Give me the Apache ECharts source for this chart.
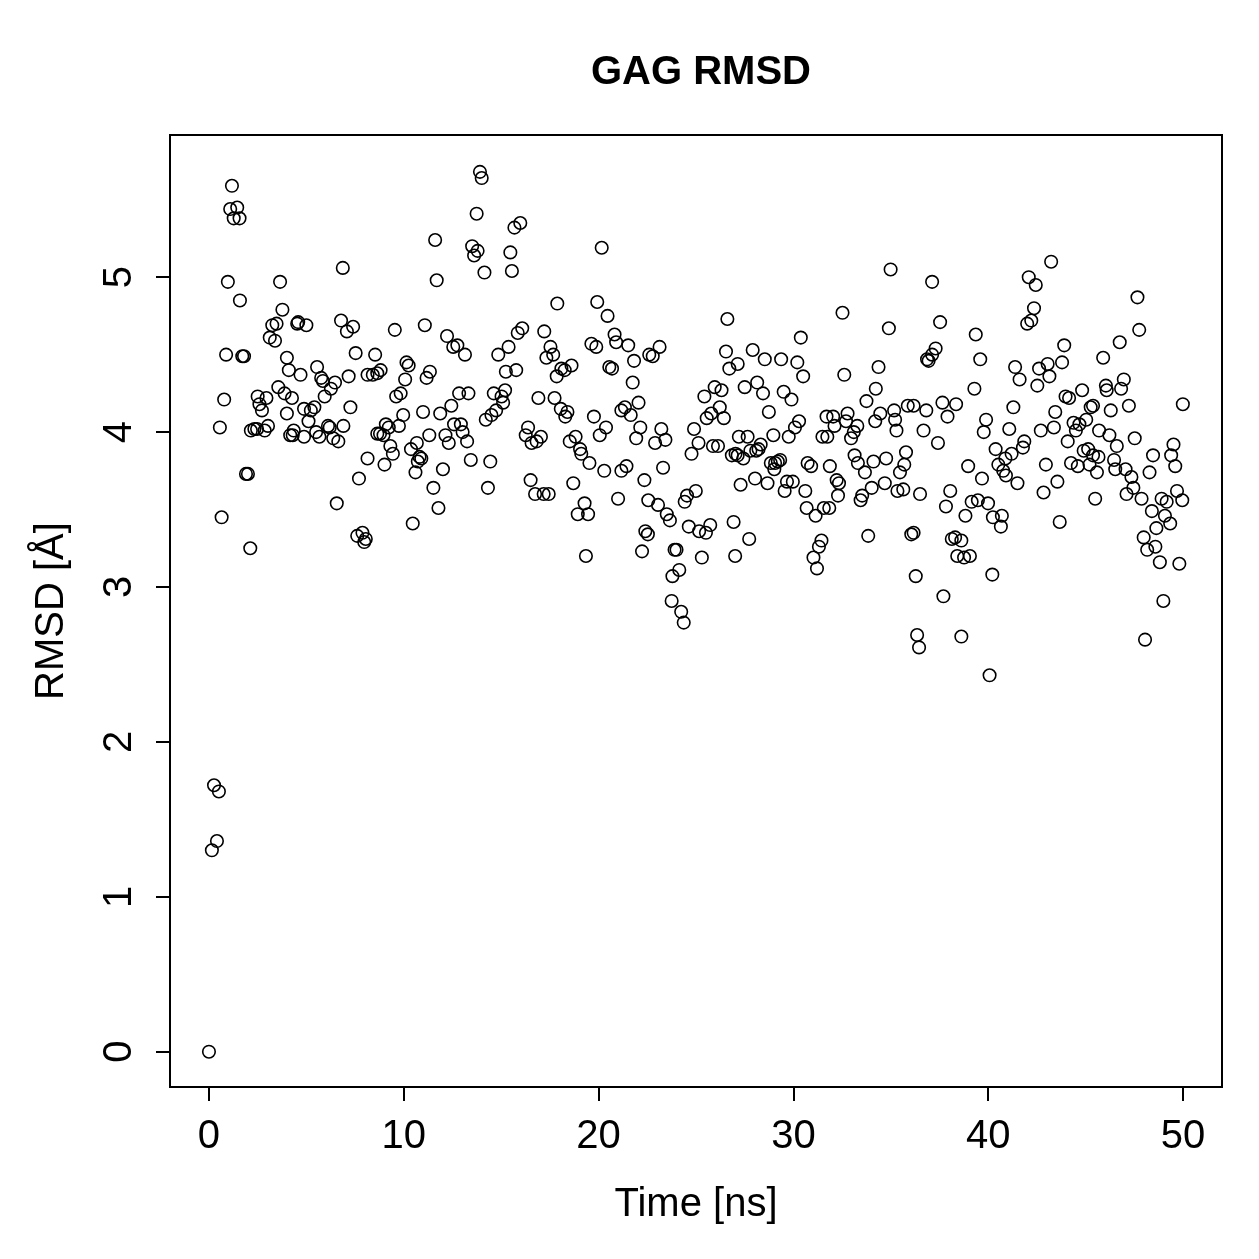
<!DOCTYPE html>
<html>
<head>
<meta charset="utf-8">
<script src="https://cdn.jsdelivr.net/npm/echarts@6/dist/echarts.min.js"></script>
<style>
  html, body { margin: 0; padding: 0; background: #fff; }
  #chart { width: 1259px; height: 1259px; }
</style>
</head>
<body>
<div id="chart"></div>
<script>
// values (time in ns, RMSD in Å)
const timeNs = [
  0, 0.15, 0.26, 0.41, 0.51, 0.56, 0.65, 0.78, 0.88, 0.97,
  1.09, 1.18, 1.27, 1.45, 1.57, 1.59, 1.71, 1.80, 1.90, 2.00,
  2.12, 2.15, 2.33, 2.47, 2.50, 2.59, 2.72, 2.86, 2.95, 3.03,
  3.12, 3.25, 3.39, 3.47, 3.56, 3.65, 3.77, 3.88, 4.00, 4.00,
  4.10,
  4.35, 4.17, 4.30, 4.26, 4.53, 4.58, 4.70, 4.88, 4.88, 5.00,
  5.11, 5.23, 5.41, 5.50, 5.55, 5.67, 5.76, 5.85, 5.94, 6.11,
  6.20, 6.26, 6.38, 6.47, 6.56, 6.64, 6.78, 6.87, 6.90, 7.08,
  7.17, 7.26, 7.40, 7.53, 7.61, 7.70, 7.88, 7.97, 8.05, 8.14,
  8.14, 8.41, 8.53, 8.64, 8.64, 8.81,
  8.78, 8.96, 9.01, 9.08, 9.23, 9.31, 9.44, 9.54, 9.61, 9.75,
  9.84, 9.97, 10.07, 10.14, 10.25, 10.37, 10.46, 10.60, 10.67, 10.72,
  10.81, 10.90, 10.99, 11.08, 11.17, 11.31, 11.34, 11.52, 11.61, 11.69,
  11.78, 11.87, 12.01, 12.14, 12.22, 12.31, 12.44, 12.54, 12.58, 12.75,
  12.84, 12.93, 13.02, 13.14, 13.25, 13.32,
  13.44, 13.51, 13.61, 13.74, 13.79, 13.91, 14.00, 14.14, 14.21, 14.32,
  14.44, 14.50, 14.62, 14.74, 14.85, 15.02, 15.10, 15.20, 15.24, 15.38,
  15.47, 15.55, 15.68, 15.77, 15.85, 15.98, 16.08, 16.26, 16.38, 16.51,
  16.56, 16.74, 16.82, 16.91, 17.04, 17.18, 17.21, 17.32, 17.44, 17.53,
  17.67, 17.74, 17.85, 17.88, 18.06, 18.09,
  18.26, 18.29, 18.40, 18.52, 18.61, 18.70, 18.82, 18.93, 19.05, 19.11,
  19.28, 19.35, 19.46, 19.53, 19.63, 19.76, 19.88, 19.93, 20.06, 20.16,
  20.29, 20.38, 20.46, 20.55, 20.69, 20.82, 20.90, 21.00, 21.17, 21.17,
  21.35, 21.43, 21.52, 21.65, 21.75, 21.82, 21.93, 22.05, 22.14, 22.23,
  22.35, 22.40, 22.53,
  22.60, 22.78, 22.90, 23.05, 22.55, 23.13, 23.22, 23.31, 23.43, 23.50,
  23.66, 23.75, 23.79, 23.90, 24.00, 24.14, 24.24, 24.37, 24.42, 24.54,
  24.63, 24.77, 24.90, 24.99, 25.13, 25.16, 25.30, 25.43, 25.51, 25.55,
  25.73, 25.78, 25.87, 25.96, 26.13, 26.22, 26.31, 26.43, 26.54, 26.61,
  26.71, 26.84, 26.93, 27.01, 27.14, 27.14,
  27.03, 27.20, 27.29, 27.43, 27.50, 27.65, 27.73, 27.79, 27.91, 28.03,
  28.09, 28.14, 28.21, 28.32, 28.44, 28.53, 28.67, 28.74, 28.84, 28.97,
  29.02, 29.06, 29.20, 29.32, 29.37, 29.50, 29.55, 29.67, 29.76, 29.90,
  29.97, 30.08, 30.20, 30.29, 30.38, 30.50, 30.61, 30.68, 30.73, 30.91,
  31.03, 31.14, 31.21, 31.31, 31.44, 31.49, 31.56, 31.70, 31.74, 31.84,
  31.87, 32.04, 32.11, 32.22, 32.29, 32.34, 32.52, 32.61, 32.70, 32.78,
  32.96, 33.10, 33.14, 33.28, 33.31, 33.45, 33.53, 33.67, 33.75, 33.84,
  34.02, 34.11, 34.20, 34.23, 34.37, 34.46, 34.69, 34.76, 34.90, 34.99,
  35.17, 35.22, 35.29, 35.34, 35.47, 35.64, 35.69, 35.78, 35.87, 36.05,
  36.17, 36.17, 36.28, 36.35, 36.45,
  36.50, 36.68, 36.82, 36.86, 36.94, 37.12, 37.12, 37.30, 37.42, 37.53,
  37.65, 37.70, 37.83, 37.91, 38.05, 38.13, 38.30, 38.35, 38.41, 38.62,
  38.62, 38.76, 38.83, 38.97, 39.06, 39.15, 39.29, 39.36, 39.47, 39.59,
  39.68, 39.77, 39.89, 39.99, 40.07, 40.21, 40.24, 40.38, 40.52, 40.65,
  40.70, 40.77, 40.88, 40.91,
  41.08, 41.20, 41.29, 41.38, 41.50, 41.61, 41.78, 41.85, 42.00, 42.08,
  42.21, 42.35, 42.44, 42.52, 42.61, 42.70, 42.84, 42.96, 43.05, 43.14,
  43.23, 43.37, 43.44, 43.55, 43.67, 43.79, 43.90, 43.97, 44.08, 44.15,
  44.25, 44.38, 44.50, 44.60, 44.68, 44.82, 44.90, 45.03, 45.13, 45.20,
  45.26, 45.38, 45.38, 45.49, 45.66,
  45.58, 45.69, 45.90, 46.04, 46.08, 46.22, 46.29, 46.46, 46.52, 46.60,
  46.75, 46.82, 46.96, 47.05, 47.10, 47.22, 47.35, 47.45, 47.52, 47.66,
  47.75, 47.87, 47.98, 48.05, 48.16, 48.28, 48.40, 48.46, 48.58, 48.63,
  48.81, 48.90, 48.99, 49.07, 49.16, 49.34, 49.39, 49.51, 49.60, 49.69,
  49.81, 49.96, 49.99
];

const rmsd = [
  0, 1.30, 1.72, 1.36, 1.68, 4.03, 3.45, 4.21, 4.50, 4.97,
  5.44, 5.59, 5.38, 5.45, 5.38, 4.85, 4.49, 4.49, 3.73, 3.73,
  3.25, 4.01, 4.02, 4.02, 4.23, 4.18, 4.14, 4.01, 4.22, 4.04,
  4.61, 4.69, 4.59, 4.70, 4.29, 4.97, 4.79, 4.25, 4.12, 4.48,
  4.40,
  4.01, 3.98, 3.98, 4.22, 4.70, 4.71, 4.37, 4.15, 3.97, 4.69,
  4.07, 4.14, 4.16, 4.00, 4.42, 3.97, 4.35, 4.33, 4.23, 4.04,
  4.03, 4.28, 3.96, 4.32, 3.54, 3.94, 4.72, 5.06, 4.04, 4.65,
  4.36, 4.16, 4.68, 4.51, 3.33, 3.70, 3.35, 3.29, 3.31, 4.37,
  3.83, 4.37, 4.50, 4.38, 3.99, 4.40,
  3.99, 3.98, 3.79, 4.05, 4.03, 3.91, 3.86, 4.66, 4.23, 4.04,
  4.25, 4.11, 4.34, 4.45, 4.43, 3.89, 3.41, 3.74, 3.93, 3.81,
  3.84, 3.83, 4.13, 4.69, 4.35, 3.98, 4.39, 3.64, 5.24, 4.98,
  3.51, 4.12, 3.76, 3.98, 4.62, 3.93, 4.17, 4.55, 4.05, 4.56,
  4.25, 4.05, 4.00, 4.50, 3.94, 4.25,
  3.82, 5.20, 5.14, 5.41, 5.17, 5.68, 5.64, 5.03, 4.08, 3.64,
  3.81, 4.11, 4.25, 4.14, 4.50, 4.23, 4.19, 4.27, 4.39, 4.55,
  5.16, 5.04, 5.32, 4.40, 4.64, 5.35, 4.67, 3.98, 4.03, 3.69,
  3.93, 3.60, 3.94, 4.22, 3.97, 3.60, 4.65, 4.48, 3.60, 4.55,
  4.50, 4.22, 4.36, 4.83, 4.15, 4.41,
  4.40, 4.10, 4.13, 3.94, 4.43, 3.67, 3.97, 3.47, 3.89, 3.86,
  3.54, 3.20, 3.47, 3.80, 4.57, 4.10, 4.55, 4.84, 3.98, 5.19,
  3.75, 4.03, 4.75, 4.42, 4.41, 4.63, 4.58, 3.57, 4.14, 3.75,
  4.16, 3.78, 4.56, 4.11, 4.32, 4.46, 3.96, 4.19, 4.03, 3.23,
  3.69, 3.36, 3.34,
  4.50, 4.49, 3.93, 3.53, 3.56, 4.55, 4.02, 3.77, 3.95, 3.47,
  3.43, 2.91, 3.07, 3.24, 3.24, 3.11, 2.84, 2.77, 3.55, 3.59,
  3.39, 3.86, 4.02, 3.62, 3.93, 3.36, 3.19, 4.23, 3.35, 4.09,
  3.40, 4.12, 3.91, 4.29, 3.91, 4.16, 4.27, 4.09, 4.52, 4.73,
  4.41, 3.85, 3.42, 3.20, 3.85, 4.44,
  3.86, 3.97, 3.66, 3.83, 4.29, 3.97, 3.31, 3.88, 4.53, 3.70,
  3.88, 4.32, 3.89, 3.92, 4.25, 4.47, 3.67, 4.13, 3.80, 3.98,
  3.76, 3.80, 3.81, 3.82, 4.47, 4.26, 3.62, 3.68, 3.97, 4.21,
  3.68, 4.03, 4.45, 4.07, 4.61, 4.36, 3.62, 3.51, 3.80, 3.78,
  3.19, 3.46, 3.12, 3.26, 3.30, 3.97, 3.51, 4.10, 3.97, 3.51,
  3.78, 4.10, 4.04, 3.69, 3.59, 3.67, 4.77, 4.37, 4.07, 4.12,
  3.96, 4.00, 3.85, 4.04, 3.80, 3.56, 3.59, 3.74, 4.20, 3.33,
  3.64, 3.81, 4.07, 4.28, 4.42, 4.12, 3.67, 3.83, 4.67, 5.05,
  4.14, 4.08, 4.01, 3.62, 3.74, 3.63, 3.79, 3.87, 4.17, 3.34,
  3.35, 4.17, 3.07, 2.69, 2.61,
  3.60, 4.01, 4.14, 4.47, 4.46, 4.50, 4.97, 4.54, 3.93, 4.71,
  4.19, 2.94, 3.52, 4.10, 3.62, 3.31, 3.32, 4.18, 3.20, 3.30,
  2.68, 3.19, 3.46, 3.78, 3.20, 3.55, 4.28, 4.63, 3.56, 4.47,
  3.70, 4.00, 4.08, 3.54, 2.43, 3.08, 3.45, 3.89, 3.79, 3.39,
  3.46, 3.75, 3.83, 3.72,
  4.02, 3.86, 4.16, 4.42, 3.67, 4.34, 3.90, 3.94, 4.70, 5.00,
  4.72, 4.80, 4.95, 4.30, 4.41, 4.01, 3.61, 3.79, 4.44, 4.36,
  5.10, 4.03, 4.13, 3.68, 3.42, 4.45, 4.56, 4.23, 3.94, 4.22,
  3.80, 4.06, 4.01, 3.78, 4.05, 4.27, 3.88, 4.08, 3.89, 3.79,
  4.16, 4.17, 3.85, 3.57, 3.84,
  3.74, 4.01, 4.48, 4.30, 4.27, 3.98, 4.14, 3.82, 3.76, 3.91,
  4.58, 4.28, 4.34, 3.76, 3.60, 4.17, 3.71, 3.64, 3.96, 4.87,
  4.66, 3.57, 3.32, 2.66, 3.24, 3.74, 3.49, 3.85, 3.26, 3.38,
  3.16, 3.57, 2.91, 3.46, 3.55, 3.41, 3.85, 3.92, 3.78, 3.62,
  3.15, 3.56, 4.18
];

const xTicks = [0, 10, 20, 30, 40, 50];
const yTicks = [0, 1, 2, 3, 4, 5];

const font = '"Liberation Sans", Arial, Helvetica, sans-serif';

const points = timeNs.map((t, i) => [t, rmsd[i]]);

const chart = echarts.init(document.getElementById('chart'));

const option = {
  animation: false,
  backgroundColor: '#fff',
  title: {
    text: 'GAG RMSD',
    left: 696,
    top: 48,
    textAlign: 'center',
    textStyle: { fontFamily: font, fontSize: 40, fontWeight: 'bold', color: '#000' }
  },
  grid: {
    left: 170,
    right: 37,
    top: 135,
    bottom: 172,
    show: true,
    borderColor: '#000',
    borderWidth: 2,
    backgroundColor: 'transparent'
  },
  xAxis: {
    type: 'value',
    min: -2,
    max: 52,
    name: 'Time [ns]',
    nameLocation: 'middle',
    nameGap: 98,
    nameTextStyle: { fontFamily: font, fontSize: 40, color: '#000' },
    axisLine: { show: false, onZero: false },
    splitLine: { show: false },
    axisTick: { show: true, inside: false, length: 14, customValues: xTicks, lineStyle: { color: '#000', width: 2 } },
    axisLabel: { customValues: xTicks, margin: 30, fontFamily: font, fontSize: 40, color: '#000' }
  },
  yAxis: {
    type: 'value',
    min: -0.228,
    max: 5.918,
    name: 'RMSD [Å]',
    nameLocation: 'middle',
    nameGap: 98,
    nameTextStyle: { fontFamily: font, fontSize: 40, color: '#000' },
    axisLine: { show: false, onZero: false },
    splitLine: { show: false },
    axisTick: { show: true, inside: false, length: 14, customValues: yTicks, lineStyle: { color: '#000', width: 2 } },
    axisLabel: { customValues: yTicks, rotate: 90, margin: 30, fontFamily: font, fontSize: 40, color: '#000' }
  },
  series: [
    {
      type: 'scatter',
      data: points,
      symbol: 'circle',
      symbolSize: 12.5,
      silent: true,
      itemStyle: { color: 'rgba(0,0,0,0)', borderColor: '#000', borderWidth: 1.6, opacity: 1 }
    }
  ]
};

chart.setOption(option);
</script>
</body>
</html>
